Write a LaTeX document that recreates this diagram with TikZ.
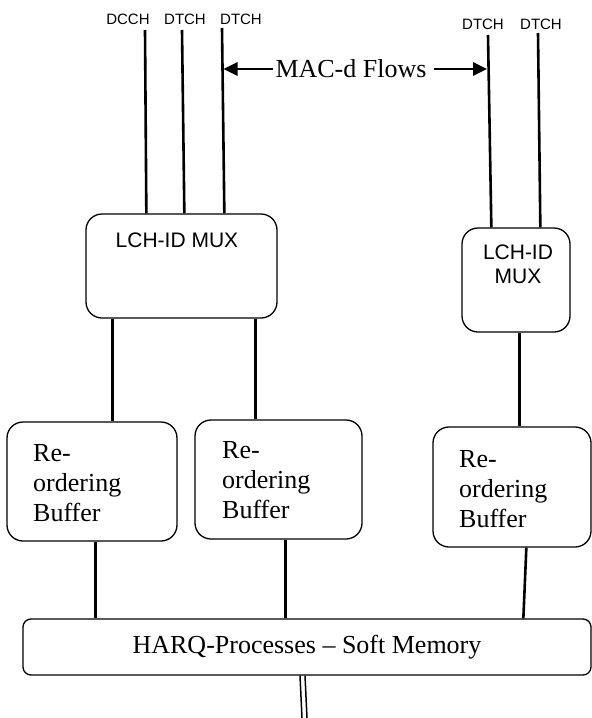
\documentclass[tikz,border=0pt]{standalone}
\usepackage{fontspec}
\setmainfont{Liberation Serif}
\setsansfont{Liberation Sans}
\usetikzlibrary{arrows.meta}
\tikzset{
 box/.style={draw, line width=1.3pt, rounded corners=16pt, inner sep=0pt},
 flow/.style={line width=2.6pt},
 thinflow/.style={line width=1.5pt},
 chlabel/.style={font=\sffamily\fontsize{15}{18}\selectfont, inner sep=0pt},
 muxtext/.style={font=\sffamily\fontsize{21}{24}\selectfont, align=center, inner sep=0pt},
 buftext/.style={font=\fontsize{26}{30}\selectfont, align=left, inner sep=0pt, anchor=north west},
 serif/.style={font=\fontsize{26}{30}\selectfont, inner sep=2pt},
 arr/.style={line width=2.6pt, -{Triangle[length=14pt,width=13pt]}},
}
\begin{document}
\begin{tikzpicture}[x=1pt,y=-1pt]
\useasboundingbox (0,0) rectangle (592,718);
% boxes
\node[box, minimum width=191pt, minimum height=104pt] (mux1) at (181.5,266) {};
\node[muxtext] (mux1t) at (177,240) {LCH-ID MUX};
\node[box, minimum width=108pt, minimum height=104pt] (mux2) at (516,280) {};
\node[muxtext] (mux2t) at (518,264) {LCH-ID\\MUX};
\node[box, minimum width=170pt, minimum height=119pt] (buf1) at (92,481.5) {};
\node[box, minimum width=167pt, minimum height=119pt] (buf2) at (278.5,479.5) {};
\node[box, minimum width=158pt, minimum height=120pt] (buf3) at (512,487) {};
\node[buftext] (buf1t) at (33,444) {Re-\\ordering\\Buffer};
\node[buftext] (buf2t) at (222,441) {Re-\\ordering\\Buffer};
\node[buftext] (buf3t) at (459,450) {Re-\\ordering\\Buffer};
\node[box, rounded corners=8pt, minimum width=568pt, minimum height=56pt, font=\fontsize{26}{30}\selectfont] (harq) at (307,647) {HARQ-Processes – Soft Memory};
% channel labels
\node[chlabel] (l1) at (128,19) {DCCH};
\node[chlabel] (l2) at (185,19) {DTCH};
\node[chlabel] (l3) at (241,19) {DTCH};
\node[chlabel] (l4) at (483,24) {DTCH};
\node[chlabel] (l5) at (541,24) {DTCH};
% flows
\coordinate (f1) at (145,30);
\coordinate (f2) at (182,30);
\coordinate (f3) at (222,28);
\coordinate (f4) at (488,35);
\coordinate (f5) at (538,33);
\draw[flow] (f1) -- ([xshift=61pt]mux1.north west);
\draw[flow] (f2) -- ([xshift=99pt]mux1.north west);
\draw[flow] (f3) -- ([xshift=139pt]mux1.north west);
\draw[flow] (f4) -- ([xshift=30pt]mux2.north west);
\draw[flow] (f5) -- ([xshift=79pt]mux2.north west);
% MAC-d flows label
\node[serif] (mac) at (351,69) {MAC-d Flows};
\coordinate (a1) at (223.5,69);
\coordinate (a2) at (487,69);
\draw[arr] (mac.west) -- (a1);
\draw[arr] ([xshift=5pt]mac.east) -- (a2);
% vertical connectors
\coordinate (m1a) at ([xshift=27pt]mux1.south west);
\draw[flow] (m1a) -- (m1a |- buf1.north);
\coordinate (m1b) at ([xshift=170pt]mux1.south west);
\draw[flow] (m1b) -- (m1b |- buf2.north);
\coordinate (m2a) at ([xshift=58pt]mux2.south west);
\draw[flow] (m2a) -- (m2a |- buf3.north);
\coordinate (b1a) at ([xshift=89pt]buf1.south west);
\draw[flow] (b1a) -- (b1a |- harq.north);
\coordinate (b2a) at ([xshift=91pt]buf2.south west);
\draw[flow] (b2a) -- (b2a |- harq.north);
\coordinate (b3a) at ([xshift=94pt]buf3.south west);
\draw[flow] (b3a) -- ([xshift=501pt]harq.north west);
% output double line
\coordinate (d1) at (302,718);
\coordinate (d2) at (307,718);
\draw[thinflow] ([xshift=-7pt]harq.south) -- (d1);
\draw[thinflow] ([xshift=-2pt]harq.south) -- (d2);
\end{tikzpicture}
\end{document}
